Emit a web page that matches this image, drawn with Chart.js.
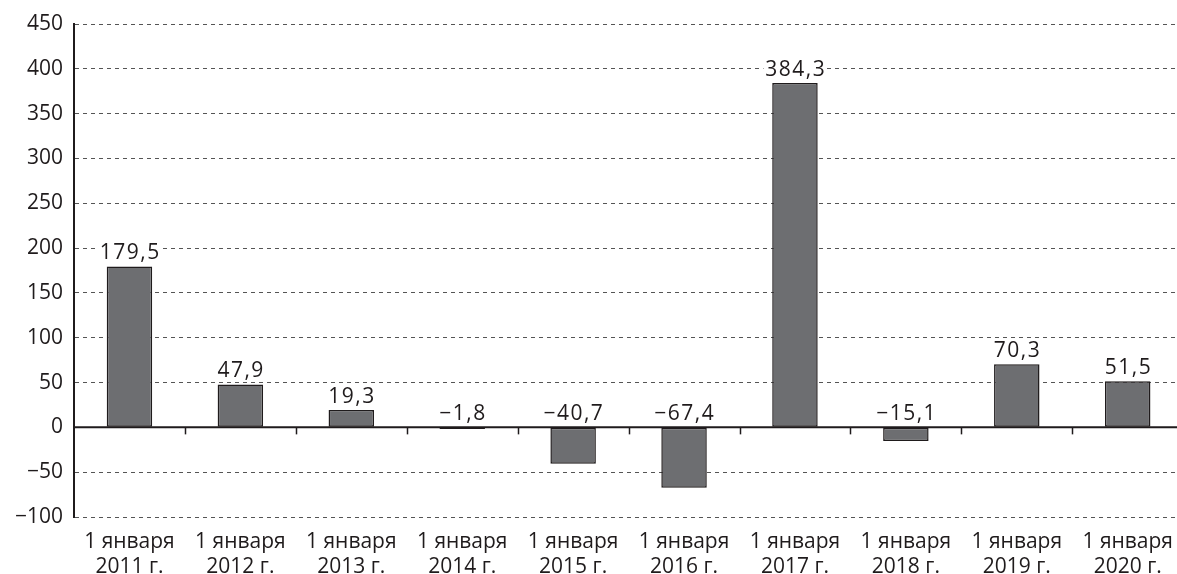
<!DOCTYPE html>
<html>
<head>
<meta charset="utf-8">
<script src="https://cdn.jsdelivr.net/npm/chart.js@4.4.1/dist/chart.umd.min.js"></script>
<style>
  html, body { margin: 0; padding: 0; background: #fff; overflow: hidden; }
  #wrap { width: 1185px; height: 574px; position: relative; }
</style>
</head>
<body>
<div id="wrap"><canvas id="c"></canvas></div>
<script>
// Годы на 1 января
const years = ['2011', '2012', '2013', '2014', '2015', '2016', '2017', '2018', '2019', '2020'];
const categories = years.map(y => ['1 января', y + ' г.']);
// Значения показателя
const values = [179.5, 47.9, 19.3, -1.8, -40.7, -67.4, 384.3, -15.1, 70.3, 51.5];
// Шкала оси Y
const yMin = -100;
const yMax = 450;
const yStep = 50;

const INK = '#1f1b1c';
const FONT = '"Open Sans", "DejaVu Sans", sans-serif';
const FSIZE = 21;

function fmt(v, digits) {
  const s = Math.abs(v).toFixed(digits).replace('.', ',');
  return (v < 0 ? '\u2212' : '') + s;
}

// Нулевая линия, засечки между категориями и подписи значений
const decorations = {
  id: 'decorations',
  afterDatasetsDraw(chart) {
    const { ctx, chartArea, scales } = chart;
    const x = scales.x, y = scales.y;
    const y0 = y.getPixelForValue(0);
    ctx.save();
    // засечки на границах категорий
    ctx.strokeStyle = INK;
    ctx.lineWidth = 1.5;
    const n = categories.length;
    for (let i = 1; i <= n; i++) {
      const bx = Math.round((x.getPixelForValue(i - 1) + x.getPixelForValue(i)) / 2) + 0.5;
      ctx.beginPath();
      ctx.moveTo(bx, y0);
      ctx.lineTo(bx, y0 + 7);
      ctx.stroke();
    }
    // нулевая линия
    ctx.lineWidth = 2;
    ctx.beginPath();
    ctx.moveTo(chartArea.left, y0);
    ctx.lineTo(chartArea.right, y0);
    ctx.stroke();
    // подписи
    ctx.font = '500 ' + FSIZE + 'px ' + FONT;
    ctx.letterSpacing = '1.5px';
    ctx.textAlign = 'center';
    ctx.textBaseline = 'alphabetic';
    const meta = chart.getDatasetMeta(0);
    meta.data.forEach((bar, i) => {
      const v = values[i];
      const text = fmt(v, 1);
      const top = v >= 0 ? y.getPixelForValue(v) : y0;
      const base = top - 7;
      const w = ctx.measureText(text).width;
      ctx.fillStyle = '#fff';
      ctx.fillRect(bar.x - w / 2 - 1, base - 17, w + 2, 19);
      ctx.fillStyle = INK;
      ctx.fillText(text, bar.x + 0.75, base);
    });
    ctx.restore();
  }
};

new Chart(document.getElementById('c'), {
  type: 'bar',
  data: {
    labels: categories,
    datasets: [{
      data: values,
      backgroundColor: '#6d6e71',
      borderColor: INK,
      borderWidth: 1.5,
      borderSkipped: false,
      categoryPercentage: 1,
      barPercentage: 0.41
    }]
  },
  options: {
    responsive: true,
    maintainAspectRatio: false,
    animation: false,
    layout: { padding: { top: 24, right: 0, left: 0, bottom: 0 } },
    plugins: { legend: { display: false }, tooltip: { enabled: false } },
    scales: {
      x: {
        grid: { display: false, drawTicks: false },
        border: { display: false },
        ticks: {
          color: INK,
          font: { family: FONT, size: FSIZE, weight: '500', lineHeight: 1.22 },
          padding: 12,
          maxRotation: 0,
          autoSkip: false
        },
        afterFit(s) { s.height = 57; }
      },
      y: {
        min: yMin,
        max: yMax,
        ticks: {
          stepSize: yStep,
          color: INK,
          font: { family: FONT, size: FSIZE, weight: '500' },
          padding: 11,
          callback: v => fmt(v, 0)
        },
        grid: {
          color: '#555555',
          lineWidth: 1,
          drawTicks: false
        },
        border: { display: true, color: INK, width: 2, dash: [4, 4] },
        afterFit(s) { s.width = 74; }
      }
    }
  },
  plugins: [decorations]
});
</script>
</body>
</html>
